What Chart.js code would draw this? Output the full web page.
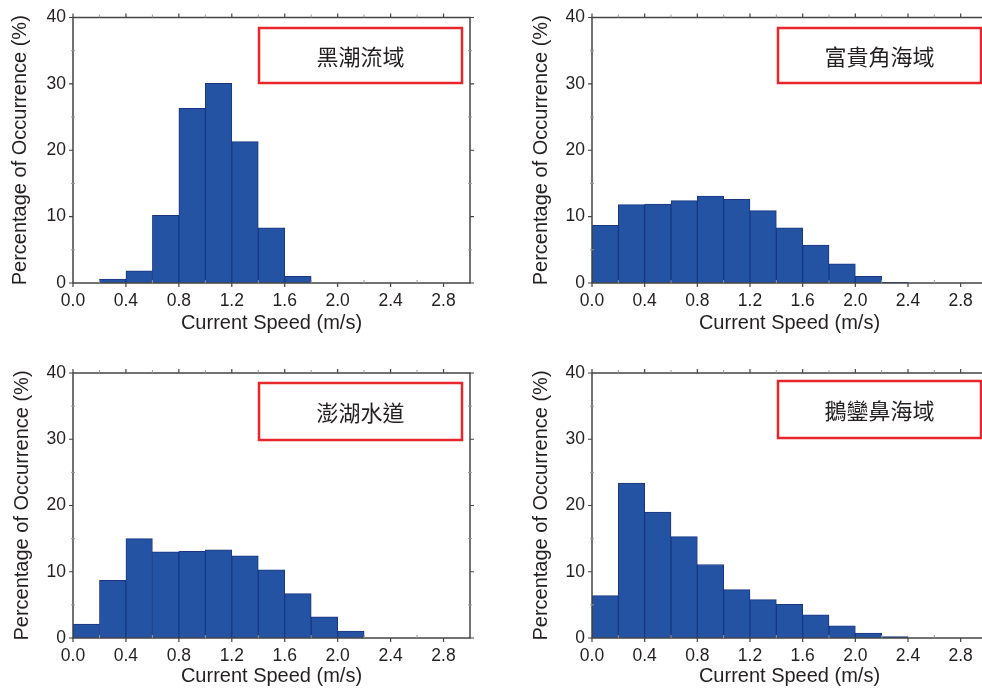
<!DOCTYPE html>
<html>
<head>
<meta charset="utf-8">
<script src="https://cdn.jsdelivr.net/npm/chart.js@4.4.0/dist/chart.umd.min.js"></script>
<style>
  html, body { margin: 0; padding: 0; background: #fff; overflow: hidden; width: 982px; height: 688px; }
  canvas { position: absolute; }
</style>
</head>
<body>
<canvas id="c1"></canvas>
<canvas id="c2"></canvas>
<canvas id="c3"></canvas>
<canvas id="c4"></canvas>

<script>
// bin left edges (m/s), each bin is 0.2 m/s wide
const binLeft = [0.0, 0.2, 0.4, 0.6, 0.8, 1.0, 1.2, 1.4, 1.6, 1.8, 2.0, 2.2, 2.4, 2.6, 2.8]
const binWidth = 0.2

const xTicks = [0.0, 0.4, 0.8, 1.2, 1.6, 2.0, 2.4, 2.8]
const xMinor = [0.2, 0.6, 1.0, 1.4, 1.8, 2.2, 2.6]
const yTicks = [0, 10, 20, 30, 40]
const yMinor = [5, 15, 25, 35]

const regionNames = ['黑潮流域', '富貴角海域', '澎湖水道', '鵝鑾鼻海域']

// percentage of occurrence per bin
const kuroshio  = [0, 0.6, 1.85, 10.2, 26.3, 30.1, 21.3, 8.3, 1.0, 0, 0, 0, 0, 0, 0]
const fuguijiao = [8.7, 11.8, 11.9, 12.4, 13.1, 12.6, 10.9, 8.3, 5.7, 2.9, 1.0, 0.1, 0, 0, 0]
const penghu    = [2.1, 8.7, 15.0, 13.0, 13.1, 13.3, 12.4, 10.3, 6.7, 3.2, 1.05, 0, 0, 0, 0]
const eluanbi   = [6.4, 23.4, 19.0, 15.3, 11.1, 7.3, 5.8, 5.1, 3.5, 1.85, 0.75, 0.2, 0, 0, 0]

const seriesList = [kuroshio, fuguijiao, penghu, eluanbi]

// where each panel sits on the page (canvas box + plot area), and its label box
const panels = [
  { id: 'c1', left: 0,   top: 0,   w: 491, h: 344, area: { l: 73,  r: 470, t: 17,  b: 283 }, titlePad: 8,  xTitlePad: 9, box: { x: 259, y: 28, w: 203, h: 55 } },
  { id: 'c2', left: 491, top: 0,   w: 509, h: 344, area: { l: 592, r: 987, t: 17,  b: 283 }, titlePad: 38, xTitlePad: 9, box: { x: 778, y: 28, w: 203, h: 55 } },
  { id: 'c3', left: 0,   top: 344, w: 491, h: 344, area: { l: 73,  r: 470, t: 373, b: 638 }, titlePad: 10, xTitlePad: 0, box: { x: 259, y: 383, w: 203, h: 57 } },
  { id: 'c4', left: 491, top: 344, w: 509, h: 344, area: { l: 592, r: 987, t: 373, b: 638 }, titlePad: 38, xTitlePad: 0, box: { x: 778, y: 381, w: 203, h: 57 } }
]

const textColor = '#231f20'
const frameColor = '#444'

// box around the plot, ticks on all four sides
const framePlugin = {
  id: 'frame',
  afterDatasetsDraw(chart) {
    const { ctx, chartArea: a, scales: { x, y } } = chart
    ctx.save()
    ctx.strokeStyle = frameColor
    ctx.lineWidth = 1.5
    ctx.strokeRect(a.left, a.top, a.right - a.left, a.bottom - a.top)

    ctx.lineWidth = 1.2
    ctx.beginPath()
    xTicks.forEach(v => {
      const px = x.getPixelForValue(v)
      ctx.moveTo(px, a.bottom); ctx.lineTo(px, a.bottom + 4)
      ctx.moveTo(px, a.top); ctx.lineTo(px, a.top - 4)
    })
    yTicks.forEach(v => {
      const py = y.getPixelForValue(v)
      ctx.moveTo(a.left, py); ctx.lineTo(a.left - 4, py)
      ctx.moveTo(a.right, py); ctx.lineTo(a.right + 4, py)
    })
    ctx.stroke()

    ctx.strokeStyle = '#999'
    ctx.lineWidth = 1
    ctx.beginPath()
    xMinor.forEach(v => {
      const px = x.getPixelForValue(v)
      ctx.moveTo(px, a.bottom); ctx.lineTo(px, a.bottom - 3)
      ctx.moveTo(px, a.top); ctx.lineTo(px, a.top - 3)
    })
    yMinor.forEach(v => {
      const py = y.getPixelForValue(v)
      ctx.moveTo(a.left - 2, py); ctx.lineTo(a.left + 2, py)
      ctx.moveTo(a.right - 2, py); ctx.lineTo(a.right + 2, py)
    })
    ctx.stroke()
    ctx.restore()
  }
}

// red label box with the region name
const labelPlugin = {
  id: 'regionLabel',
  afterDraw(chart, args, opts) {
    const { ctx } = chart
    const b = opts.box
    ctx.save()
    ctx.strokeStyle = '#e8262b'
    ctx.lineWidth = 2.5
    ctx.strokeRect(b.x, b.y, b.w, b.h)
    ctx.fillStyle = textColor
    ctx.font = '22px "Noto Sans CJK TC"'
    ctx.textAlign = 'center'
    ctx.textBaseline = 'middle'
    ctx.fillText(opts.text, b.x + b.w / 2, b.y + b.h / 2 + 1)
    ctx.restore()
  }
}

panels.forEach((p, i) => {
  const cv = document.getElementById(p.id)
  cv.width = p.w
  cv.height = p.h
  cv.style.left = p.left + 'px'
  cv.style.top = p.top + 'px'

  const values = seriesList[i]
  const yAxisWidth = p.area.l - p.left
  const xAxisHeight = p.top + p.h - p.area.b

  new Chart(cv, {
    type: 'bar',
    data: {
      datasets: [{
        data: values.map((v, k) => ({ x: binLeft[k] + binWidth / 2, y: v })),
        backgroundColor: '#2553a4',
        borderColor: '#1b3680',
        borderWidth: 1,
        barPercentage: 1,
        categoryPercentage: 1
      }]
    },
    options: {
      responsive: false,
      animation: false,
      layout: {
        padding: { top: p.area.t - p.top, right: p.left + p.w - p.area.r, bottom: 0, left: 0 }
      },
      plugins: {
        legend: { display: false },
        tooltip: { enabled: false },
        regionLabel: { box: { x: p.box.x - p.left, y: p.box.y - p.top, w: p.box.w, h: p.box.h }, text: regionNames[i] }
      },
      scales: {
        x: {
          type: 'linear',
          min: 0,
          max: 3.0,
          offset: false,
          grid: { display: false, drawTicks: false },
          border: { display: false },
          afterBuildTicks: scale => { scale.ticks = xTicks.map(v => ({ value: v })) },
          afterFit: scale => { scale.height = xAxisHeight },
          ticks: {
            padding: 8,
            color: textColor,
            font: { family: 'Liberation Sans', size: 17.5 },
            maxRotation: 0,
            callback: v => Number(v).toFixed(1)
          },
          title: {
            display: true,
            text: 'Current Speed (m/s)',
            color: textColor,
            font: { family: 'Liberation Sans', size: 20 },
            padding: { top: 0, bottom: p.xTitlePad }
          }
        },
        y: {
          min: 0,
          max: 40,
          grid: { display: false, drawTicks: false },
          border: { display: false },
          afterBuildTicks: scale => { scale.ticks = yTicks.map(v => ({ value: v })) },
          afterFit: scale => { scale.width = yAxisWidth },
          ticks: {
            padding: 7,
            color: textColor,
            font: { family: 'Liberation Sans', size: 17.5 }
          },
          title: {
            display: true,
            text: 'Percentage of Occurrence (%)',
            color: textColor,
            font: { family: 'Liberation Sans', size: 20 },
            padding: { top: p.titlePad, bottom: 0 }
          }
        }
      }
    },
    plugins: [framePlugin, labelPlugin]
  })
})
</script>
</body>
</html>
